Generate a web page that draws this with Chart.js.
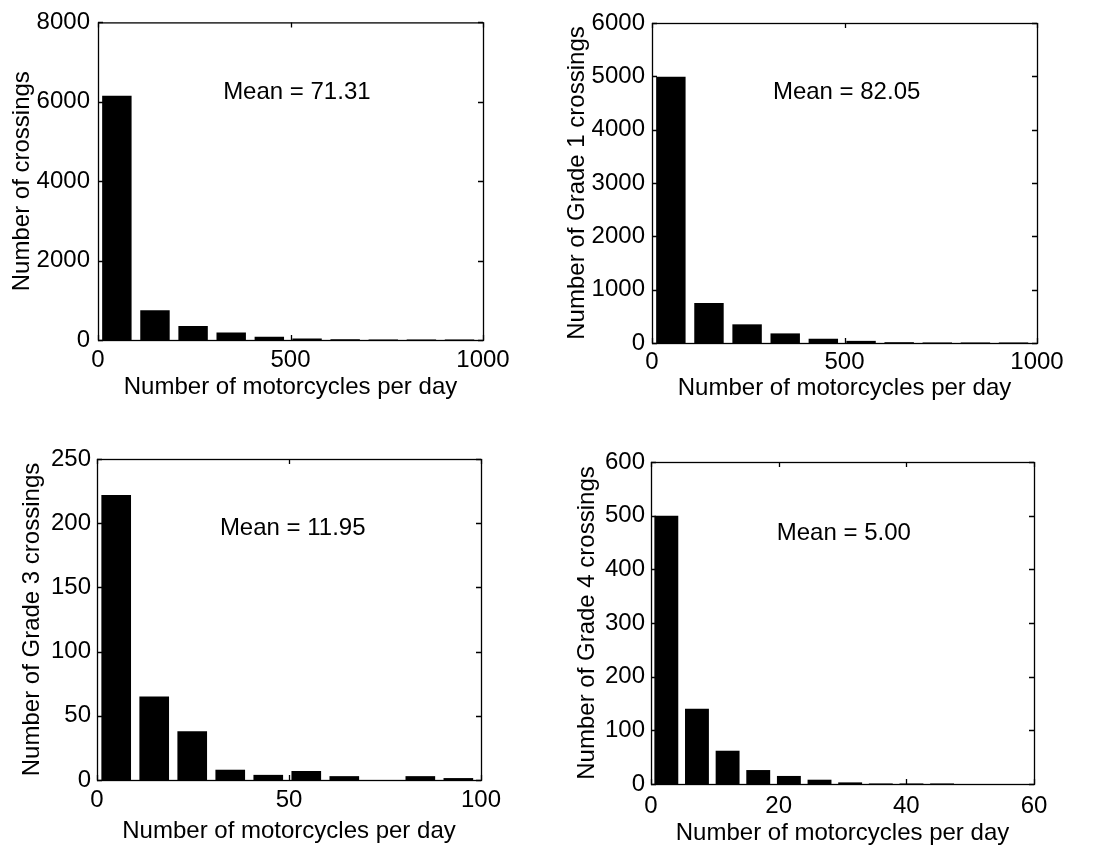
<!DOCTYPE html>
<html>
<head>
<meta charset="utf-8">
<script src="https://cdn.jsdelivr.net/npm/chart.js@4.4.1/dist/chart.umd.min.js"></script>
<style>
html,body{margin:0;padding:0;background:#fff;}
#wrap{position:relative;width:1095px;height:852px;overflow:hidden;background:#fff;}
.cell{position:absolute;}
canvas{display:block;}
</style>
</head>
<body>
<div id="wrap">
  <div class="cell" style="left:0px;top:0px"><canvas id="c1" width="547" height="426"></canvas></div>
  <div class="cell" style="left:547px;top:0px"><canvas id="c2" width="548" height="426"></canvas></div>
  <div class="cell" style="left:0px;top:426px"><canvas id="c3" width="547" height="426"></canvas></div>
  <div class="cell" style="left:547px;top:426px"><canvas id="c4" width="548" height="426"></canvas></div>
</div>
<script>
// ---------------- DATA ----------------
const xAxisLabel = "Number of motorcycles per day";

// All crossings
const allTitle = "Number of crossings";
const allCenters = [49, 148, 247, 346, 445, 543, 642, 741, 840, 939];
const allCounts = [6150, 750, 350, 190, 80, 40, 20, 15, 15, 15];
const allMean = "Mean = 71.31";
const allXTicks = [0, 500, 1000];
const allYTicks = [0, 2000, 4000, 6000, 8000];

// Grade 1 crossings
const g1Title = "Number of Grade 1 crossings";
const g1Centers = [49, 148, 247, 346, 445, 543, 642, 741, 840, 939];
const g1Counts = [4990, 750, 350, 180, 80, 40, 15, 10, 10, 10];
const g1Mean = "Mean = 82.05";
const g1XTicks = [0, 500, 1000];
const g1YTicks = [0, 1000, 2000, 3000, 4000, 5000, 6000];

// Grade 3 crossings
const g3Title = "Number of Grade 3 crossings";
const g3Centers = [5, 14.9, 24.8, 34.7, 44.6, 54.5, 64.4, 74.3, 84.2, 94.1];
const g3Counts = [222, 65, 38, 8, 4, 7, 3, 0, 3, 1.5];
const g3Mean = "Mean = 11.95";
const g3XTicks = [0, 50, 100];
const g3YTicks = [0, 50, 100, 150, 200, 250];

// Grade 4 crossings
const g4Title = "Number of Grade 4 crossings";
const g4Centers = [2.4, 7.2, 12, 16.8, 21.6, 26.4, 31.2, 36, 40.8, 45.6];
const g4Counts = [500, 140, 62, 26, 15, 8, 3, 1, 1, 1];
const g4Mean = "Mean = 5.00";
const g4XTicks = [0, 20, 40, 60];
const g4YTicks = [0, 100, 200, 300, 400, 500, 600];

// ---------------- RENDERING ----------------
const FONT = "'Liberation Sans', Arial, Helvetica, sans-serif";
Chart.defaults.font.family = FONT;
Chart.defaults.font.size = 24;
Chart.defaults.color = '#000';

const framePlugin = {
  id: 'frame',
  afterDraw(chart, args, opts) {
    const {ctx, chartArea: a, scales: {x, y}} = chart;
    ctx.save();
    ctx.strokeStyle = '#000';
    ctx.lineWidth = 1.3;
    ctx.strokeRect(a.left + 0.5, a.top + 0.5, a.right - a.left, a.bottom - a.top);
    const L = 5;
    ctx.beginPath();
    x.ticks.forEach(t => {
      const p = Math.round(x.getPixelForValue(t.value)) + 0.5;
      ctx.moveTo(p, a.bottom); ctx.lineTo(p, a.bottom - L);
      ctx.moveTo(p, a.top); ctx.lineTo(p, a.top + L);
    });
    y.ticks.forEach(t => {
      const p = Math.round(y.getPixelForValue(t.value)) + 0.5;
      ctx.moveTo(a.left, p); ctx.lineTo(a.left + L, p);
      ctx.moveTo(a.right, p); ctx.lineTo(a.right - L, p);
    });
    ctx.stroke();
    if (opts.text) {
      ctx.fillStyle = '#000';
      ctx.font = '24px ' + FONT;
      ctx.textAlign = 'left';
      ctx.textBaseline = 'middle';
      ctx.fillText(opts.text, x.getPixelForValue(opts.at[0]), y.getPixelForValue(opts.at[1]));
    }
    ctx.restore();
  }
};

function makeChart(id, centers, counts, xTicks, yTicks, yTitle, meanText, meanAt, L) {
  const canvas = document.getElementById(id);
  const W = canvas.width, H = canvas.height;
  const lh = 24 * 1.2;
  const pts = centers.map((c, i) => ({x: c, y: counts[i]}));
  return new Chart(canvas, {
    type: 'bar',
    data: {datasets: [{data: pts, backgroundColor: '#000', borderWidth: 0,
                       barPercentage: 0.78, categoryPercentage: 1}]},
    options: {
      responsive: false,
      animation: false,
      events: [],
      layout: {padding: {left: 0, top: L.top, right: W - L.right, bottom: 0}},
      plugins: {legend: {display: false}, tooltip: {enabled: false},
                frame: {text: meanText, at: meanAt}},
      scales: {
        x: {
          type: 'linear', offset: false,
          min: xTicks[0], max: xTicks[xTicks.length - 1],
          afterBuildTicks: s => { s.ticks = xTicks.map(v => ({value: v})); },
          afterFit: s => { s.height = H - L.bottom; },
          grid: {display: false, drawTicks: false},
          border: {display: false},
          ticks: {padding: L.xTickPad, maxRotation: 0, autoSkip: false, callback: v => String(v)},
          title: {display: true, text: xAxisLabel, padding: {top: 0, bottom: L.xTitlePad}}
        },
        y: {
          type: 'linear',
          min: yTicks[0], max: yTicks[yTicks.length - 1],
          afterBuildTicks: s => { s.ticks = yTicks.map(v => ({value: v})); },
          afterFit: s => { s.width = L.left; },
          grid: {display: false, drawTicks: false},
          border: {display: false},
          ticks: {padding: L.yTickPad, autoSkip: false, callback: v => String(v)},
          title: {display: true, text: yTitle, padding: {top: L.yTitleCenter - lh / 2, bottom: 0}}
        }
      }
    },
    plugins: [framePlugin]
  });
}

makeChart('c1', allCenters, allCounts, allXTicks, allYTicks, allTitle, allMean, [325, 6250],
  {left: 98, top: 20, right: 483, bottom: 340, xTickPad: 6, xTitlePad: 24.6, yTickPad: 8, yTitleCenter: 22});
makeChart('c2', g1Centers, g1Counts, g1XTicks, g1YTicks, g1Title, g1Mean, [314, 4700],
  {left: 105, top: 23, right: 490, bottom: 343, xTickPad: 4.5, xTitlePad: 23.6, yTickPad: 7, yTitleCenter: 30});
makeChart('c3', g3Centers, g3Counts, g3XTicks, g3YTicks, g3Title, g3Mean, [32, 196],
  {left: 97, top: 33, right: 481, bottom: 354, xTickPad: 5.6, xTitlePad: 5.9, yTickPad: 6, yTitleCenter: 32.5});
makeChart('c4', g4Centers, g4Counts, g4XTicks, g4YTicks, g4Title, g4Mean, [19.7, 467],
  {left: 104, top: 36, right: 487, bottom: 358, xTickPad: 8.3, xTitlePad: 4.6, yTickPad: 6, yTitleCenter: 40.5});
</script>
</body>
</html>
